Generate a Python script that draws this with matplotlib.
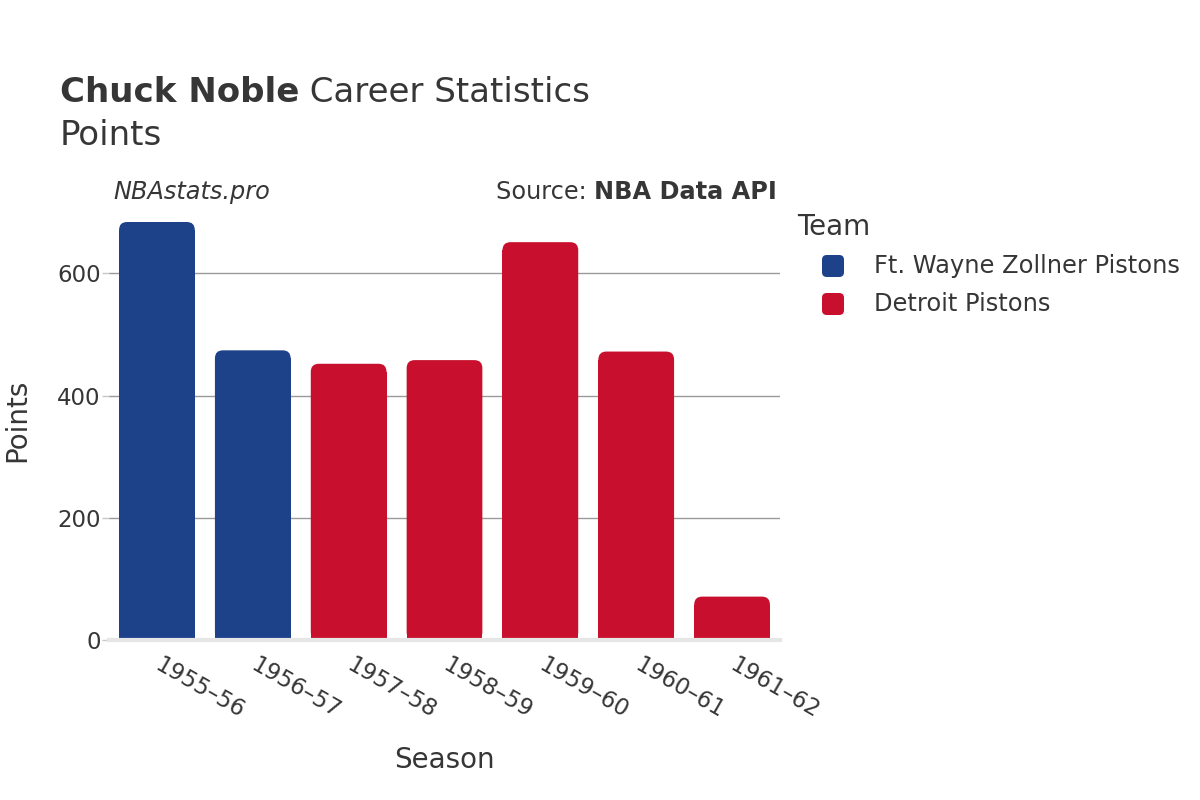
import matplotlib
matplotlib.use("Agg")
import matplotlib.pyplot as plt
from matplotlib.patches import FancyBboxPatch, Rectangle

seasons = ["1955–56", "1956–57", "1957–58", "1958–59", "1959–60", "1960–61", "1961–62"]
points = [684, 474, 452, 458, 651, 472, 71]
teams = ["Ft. Wayne Zollner Pistons", "Ft. Wayne Zollner Pistons", "Detroit Pistons",
         "Detroit Pistons", "Detroit Pistons", "Detroit Pistons", "Detroit Pistons"]
legend_teams = ["Ft. Wayne Zollner Pistons", "Detroit Pistons"]
team_colors = {"Ft. Wayne Zollner Pistons": "#1d428a", "Detroit Pistons": "#c8102e"}
yticks = [0, 200, 400, 600]

TEXT = "#363636"
W, H = 1200, 800

fig = plt.figure(figsize=(12, 8), dpi=100)
ax = fig.add_axes([109 / W, 1 - 640 / H, 671 / W, 440 / H])
ax.set_xlim(-0.5, len(seasons) - 0.5)
ax.set_ylim(0, 720)

# rounded-top bars
px_x = 671 / len(seasons)
px_y = 440 / 720
r_px = 8
bar_w = 0.79
for i, (v, t) in enumerate(zip(points, teams)):
    c = team_colors[t]
    rx = r_px / px_x
    ry = r_px / px_y
    ax.add_patch(FancyBboxPatch((i - bar_w / 2, 0), bar_w, v,
                                boxstyle=f"round,pad=0,rounding_size={rx}",
                                mutation_aspect=px_x / px_y,
                                facecolor=c, edgecolor="none", zorder=2))
    ax.add_patch(Rectangle((i - bar_w / 2, 0), bar_w, max(v - ry, 0),
                           facecolor=c, edgecolor="none", zorder=2))

ax.set_yticks(yticks)
ax.set_yticklabels([str(v) for v in yticks], fontsize=16.5, color=TEXT)
for y in yticks[1:]:
    ax.axhline(y, color="#9a9a9a", lw=1, zorder=1)
ax.tick_params(axis="y", length=5, width=1, color="#c8c8c8", pad=1)

ax.set_xticks(range(len(seasons)))
ax.set_xticklabels(seasons, fontsize=16.5, color=TEXT, rotation=-30,
                   ha="left", va="center", rotation_mode="anchor")
ax.tick_params(axis="x", length=0, pad=17)

for s in ["top", "right", "left"]:
    ax.spines[s].set_visible(False)
ax.spines["bottom"].set_color("#e6e6e6")
ax.spines["bottom"].set_linewidth(3)
ax.spines["bottom"].set_zorder(3)

fig.text(17 / W, 1 - 420 / H, "Points", rotation=90, fontsize=20, color=TEXT,
         ha="center", va="center")
fig.text(444 / W, 1 - 760 / H, "Season", fontsize=20, color=TEXT,
         ha="center", va="center")

# title
t1 = fig.text(60 / W, 1 - 102 / H, "Chuck Noble", fontsize=24.5, fontweight="bold",
              color=TEXT, ha="left", va="baseline")
fig.canvas.draw()
bb = t1.get_window_extent()
fig.text(bb.x1 / W, 1 - 102 / H, " Career Statistics", fontsize=24.5, color=TEXT,
         ha="left", va="baseline")
fig.text(60 / W, 1 - 145 / H, "Points", fontsize=24.5, color=TEXT,
         ha="left", va="baseline")

fig.text(113 / W, 1 - 192 / H, "NBAstats.pro", fontsize=17.3, style="italic",
         color=TEXT, ha="left", va="center")
s2 = fig.text(777 / W, 1 - 192 / H, "NBA Data API", fontsize=17.3, fontweight="bold",
              color=TEXT, ha="right", va="center")
fig.canvas.draw()
bb2 = s2.get_window_extent()
fig.text(bb2.x0 / W, 1 - 192 / H, "Source: ", fontsize=17.3, color=TEXT,
         ha="right", va="center")

# legend
fig.text(797 / W, 1 - 227 / H, "Team", fontsize=20, color=TEXT, ha="left", va="center")
for k, t in enumerate(legend_teams):
    yc = 266 + k * 38
    fig.patches.append(FancyBboxPatch((822 / W, 1 - (yc + 11) / H), 22 / W, 22 / H,
                                      boxstyle="round,pad=0,rounding_size=0.004",
                                      mutation_aspect=W / H,
                                      transform=fig.transFigure,
                                      facecolor=team_colors[t], edgecolor="none"))
    fig.text(874 / W, 1 - yc / H, t, fontsize=17.4, color=TEXT, ha="left", va="center")

fig.savefig("out.png", dpi=100, facecolor="white")
